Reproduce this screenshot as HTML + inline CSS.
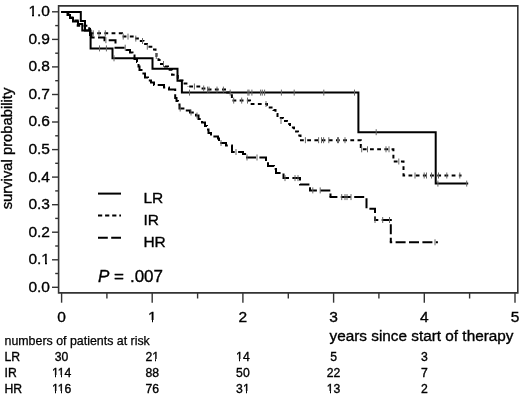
<!DOCTYPE html>
<html><head><meta charset="utf-8"><style>
html,body{margin:0;padding:0;background:#fff;}
svg{display:block;}
text{font-family:"Liberation Sans",Arial,Helvetica,sans-serif;fill:#000;stroke:#000;stroke-width:0.35px;}
</style></head><body>
<svg width="520" height="398" viewBox="0 0 520 398">
<rect width="520" height="398" fill="#fff"/>
<path d="M58.6,292.9 V5.9 H517.8 V292.9 Z" fill="none" stroke="#333" stroke-width="1.6"/>
<g stroke="#333" stroke-width="1.4"><line x1="52.0" y1="287.3" x2="58.6" y2="287.3"/><line x1="55.2" y1="273.5" x2="58.6" y2="273.5"/><line x1="52.0" y1="259.8" x2="58.6" y2="259.8"/><line x1="55.2" y1="246.0" x2="58.6" y2="246.0"/><line x1="52.0" y1="232.2" x2="58.6" y2="232.2"/><line x1="55.2" y1="218.4" x2="58.6" y2="218.4"/><line x1="52.0" y1="204.7" x2="58.6" y2="204.7"/><line x1="55.2" y1="190.9" x2="58.6" y2="190.9"/><line x1="52.0" y1="177.1" x2="58.6" y2="177.1"/><line x1="55.2" y1="163.3" x2="58.6" y2="163.3"/><line x1="52.0" y1="149.6" x2="58.6" y2="149.6"/><line x1="55.2" y1="135.8" x2="58.6" y2="135.8"/><line x1="52.0" y1="122.0" x2="58.6" y2="122.0"/><line x1="55.2" y1="108.2" x2="58.6" y2="108.2"/><line x1="52.0" y1="94.5" x2="58.6" y2="94.5"/><line x1="55.2" y1="80.7" x2="58.6" y2="80.7"/><line x1="52.0" y1="66.9" x2="58.6" y2="66.9"/><line x1="55.2" y1="53.2" x2="58.6" y2="53.2"/><line x1="52.0" y1="39.4" x2="58.6" y2="39.4"/><line x1="55.2" y1="25.6" x2="58.6" y2="25.6"/><line x1="52.0" y1="11.8" x2="58.6" y2="11.8"/><line x1="61.6" y1="293" x2="61.6" y2="302.7"/><line x1="106.9" y1="293" x2="106.9" y2="298.5"/><line x1="152.2" y1="293" x2="152.2" y2="302.7"/><line x1="197.6" y1="293" x2="197.6" y2="298.5"/><line x1="242.9" y1="293" x2="242.9" y2="302.7"/><line x1="288.3" y1="293" x2="288.3" y2="298.5"/><line x1="333.6" y1="293" x2="333.6" y2="302.7"/><line x1="378.9" y1="293" x2="378.9" y2="298.5"/><line x1="424.3" y1="293" x2="424.3" y2="302.7"/><line x1="469.6" y1="293" x2="469.6" y2="298.5"/><line x1="515.0" y1="293" x2="515.0" y2="302.7"/></g>
<g font-size="15.5" text-anchor="end"><text x="50" y="291.7">0.0</text><text x="50" y="264.2">0.1</text><text x="50" y="236.6">0.2</text><text x="50" y="209.1">0.3</text><text x="50" y="181.5">0.4</text><text x="50" y="154.0">0.5</text><text x="50" y="126.4">0.6</text><text x="50" y="98.9">0.7</text><text x="50" y="71.3">0.8</text><text x="50" y="43.8">0.9</text><text x="50" y="16.2">1.0</text></g>
<g font-size="15.5" text-anchor="middle"><text x="61.6" y="322">0</text><text x="152.2" y="322">1</text><text x="242.9" y="322">2</text><text x="333.6" y="322">3</text><text x="424.3" y="322">4</text><text x="515.0" y="322">5</text></g>
<text x="329.5" y="341.1" font-size="15.3" textLength="184" lengthAdjust="spacingAndGlyphs">years since start of therapy</text>
<text transform="translate(12.4,148.5) rotate(-90)" font-size="14.8" text-anchor="middle">survival probability</text>
<g fill="none" stroke="#000" stroke-width="2" stroke-linejoin="miter" stroke-linecap="butt">
<path d="M61.3,12 H80.8 V21 H85 V30.5 H90.6 V48.4 H112.5 V58.3 H152.5 V68.8 H177.5 V80.8 H181.9 V92.6 H358.4 V132.2 H435.7 V183.6 H468.2"/>
<path d="M61.30,12.00 H68.00 V14.50 H70.50 V17.50 H72.50 V20.50 H77.70 V25.70 H89.20 V29.00 H90.00 V33.30" stroke-dasharray="3.80 3.39" stroke-dashoffset="0.00"/>
<path d="M89.00,33.30 H122.00 V36.60 H134.00 V38.60 H139.50 V41.00 H143.50 V43.90 H147.00 V46.70 H152.50 V49.40 H155.50 V52.50 H156.50 V56.00 H158.50 V60.00 H161.00 V64.00 H165.00 V66.50 H168.00 V69.70 H172.00 V74.70 H177.80 V80.50 H182.50 V83.50 H188.00 V86.50" stroke-dasharray="3.80 3.39" stroke-dashoffset="6.18"/>
<path d="M187.00,86.50 H201.00 V88.50 H206.00 V89.60 H225.00 V92.60 H231.90 V100.60" stroke-dasharray="3.80 3.39" stroke-dashoffset="4.99"/>
<path d="M230.90,100.60 H250.00 V104.00 H267.00 V107.50 H273.50 V110.00 H275.50 V114.00 H277.50 V118.00 H283.00 V121.00 H287.00 V124.00 H290.00 V127.50 H294.00 V131.50 H298.00 V135.50 H300.50 V140.20" stroke-dasharray="3.80 3.39" stroke-dashoffset="5.59"/>
<path d="M299.50,140.20 H360.80 V149.30 H393.40 V161.50 H403.50 V175.50 H461.50" stroke-dasharray="3.80 3.39" stroke-dashoffset="6.68"/>
<path d="M61.30,12.00 H67.50 V15.00 H70.00 V18.00 H73.00 V21.50 H78.00 V24.00 H82.30 V30.50 H90.00 V35.00 H91.50 V37.50"/>
<path d="M90.50,37.50 H104.50 V40.20 H115.50 V47.70 H126.50 V50.00 H130.00 V52.50 H132.50 V55.50 H134.50 V59.00 H137.00 V62.00 H138.50 V66.50 H139.50 V70.00 H141.50 V73.50 H145.00 V77.50 H148.00 V80.50 H151.00 V82.50 H154.00 V85.00 H164.00 V87.50 H169.00 V89.60 H175.20 V98.00 H176.50 V101.00 H178.00 V104.50 H179.50 V108.50 H185.00 V110.50 H190.00 V112.50 H196.00 V115.50 H198.50 V119.00 H202.00 V122.50 H205.00 V126.00 H207.00 V129.50 H208.50 V133.00 H211.00 V136.50 H218.00 V138.50 H219.00 V143.00 H226.00 V145.50 H232.00 V152.00 H243.00 V154.00 H247.00 V157.50 H266.00 V161.00 H268.00 V166.00 H274.00 V169.00 H276.00 V173.10 H283.50 V178.10 H300.00 V184.50 H310.00 V190.40 H330.50 V197.10" stroke-dasharray="10.00 3.40" stroke-dashoffset="5.90"/>
<path d="M329.50,197.10 H366.50 V208.70 H375.00 V220.00" stroke-dasharray="10.00 3.40" stroke-dashoffset="2.10"/>
<path d="M374.00,220.00 H390.80 V242.30" stroke-dasharray="10.00 3.40" stroke-dashoffset="5.70"/>
<path d="M389.80,242.30 H437.90" stroke-dasharray="10.00 3.40" stroke-dashoffset="7.60"/>
</g>
<g stroke="#666" stroke-width="1"><line x1="99.5" y1="45.4" x2="99.5" y2="51.4"/><line x1="106.4" y1="45.4" x2="106.4" y2="51.4"/><line x1="114.0" y1="55.3" x2="114.0" y2="61.3"/><line x1="189.5" y1="89.6" x2="189.5" y2="95.6"/><line x1="230.2" y1="89.6" x2="230.2" y2="95.6"/><line x1="247.9" y1="89.6" x2="247.9" y2="95.6"/><line x1="249.0" y1="89.6" x2="249.0" y2="95.6"/><line x1="251.9" y1="89.6" x2="251.9" y2="95.6"/><line x1="260.6" y1="89.6" x2="260.6" y2="95.6"/><line x1="262.3" y1="89.6" x2="262.3" y2="95.6"/><line x1="264.6" y1="89.6" x2="264.6" y2="95.6"/><line x1="281.4" y1="89.6" x2="281.4" y2="95.6"/><line x1="294.2" y1="89.6" x2="294.2" y2="95.6"/><line x1="323.8" y1="89.6" x2="323.8" y2="95.6"/><line x1="354.5" y1="89.6" x2="354.5" y2="95.6"/><line x1="376.2" y1="129.2" x2="376.2" y2="135.2"/><line x1="437.9" y1="180.6" x2="437.9" y2="186.6"/><line x1="466.7" y1="180.6" x2="466.7" y2="186.6"/><line x1="93.2" y1="30.3" x2="93.2" y2="36.3"/><line x1="99.0" y1="30.3" x2="99.0" y2="36.3"/><line x1="105.3" y1="30.3" x2="105.3" y2="36.3"/><line x1="123.2" y1="33.6" x2="123.2" y2="39.6"/><line x1="128.0" y1="33.6" x2="128.0" y2="39.6"/><line x1="135.8" y1="35.6" x2="135.8" y2="41.6"/><line x1="142.5" y1="38.0" x2="142.5" y2="44.0"/><line x1="147.3" y1="43.7" x2="147.3" y2="49.7"/><line x1="156.3" y1="53.0" x2="156.3" y2="59.0"/><line x1="163.5" y1="61.0" x2="163.5" y2="67.0"/><line x1="194.4" y1="83.5" x2="194.4" y2="89.5"/><line x1="203.7" y1="85.5" x2="203.7" y2="91.5"/><line x1="207.5" y1="86.6" x2="207.5" y2="92.6"/><line x1="209.0" y1="86.6" x2="209.0" y2="92.6"/><line x1="217.0" y1="86.6" x2="217.0" y2="92.6"/><line x1="223.4" y1="86.6" x2="223.4" y2="92.6"/><line x1="266.0" y1="101.0" x2="266.0" y2="107.0"/><line x1="281.0" y1="118.0" x2="281.0" y2="124.0"/><line x1="233.7" y1="97.6" x2="233.7" y2="103.6"/><line x1="241.7" y1="97.6" x2="241.7" y2="103.6"/><line x1="247.5" y1="97.6" x2="247.5" y2="103.6"/><line x1="305.4" y1="137.2" x2="305.4" y2="143.2"/><line x1="318.6" y1="137.2" x2="318.6" y2="143.2"/><line x1="321.5" y1="137.2" x2="321.5" y2="143.2"/><line x1="323.6" y1="137.2" x2="323.6" y2="143.2"/><line x1="328.8" y1="137.2" x2="328.8" y2="143.2"/><line x1="337.5" y1="137.2" x2="337.5" y2="143.2"/><line x1="338.5" y1="137.2" x2="338.5" y2="143.2"/><line x1="345.0" y1="137.2" x2="345.0" y2="143.2"/><line x1="361.7" y1="146.3" x2="361.7" y2="152.3"/><line x1="367.5" y1="146.3" x2="367.5" y2="152.3"/><line x1="386.0" y1="146.3" x2="386.0" y2="152.3"/><line x1="389.0" y1="146.3" x2="389.0" y2="152.3"/><line x1="398.8" y1="158.5" x2="398.8" y2="164.5"/><line x1="415.0" y1="172.5" x2="415.0" y2="178.5"/><line x1="424.2" y1="172.5" x2="424.2" y2="178.5"/><line x1="426.5" y1="172.5" x2="426.5" y2="178.5"/><line x1="431.5" y1="172.5" x2="431.5" y2="178.5"/><line x1="438.5" y1="172.5" x2="438.5" y2="178.5"/><line x1="446.8" y1="172.5" x2="446.8" y2="178.5"/><line x1="459.8" y1="172.5" x2="459.8" y2="178.5"/><line x1="105.9" y1="37.2" x2="105.9" y2="43.2"/><line x1="125.2" y1="44.7" x2="125.2" y2="50.7"/><line x1="180.2" y1="105.5" x2="180.2" y2="111.5"/><line x1="191.0" y1="109.5" x2="191.0" y2="115.5"/><line x1="197.0" y1="112.5" x2="197.0" y2="118.5"/><line x1="247.0" y1="154.5" x2="247.0" y2="160.5"/><line x1="221.0" y1="140.0" x2="221.0" y2="146.0"/><line x1="236.0" y1="149.0" x2="236.0" y2="155.0"/><line x1="257.0" y1="154.5" x2="257.0" y2="160.5"/><line x1="285.0" y1="175.1" x2="285.0" y2="181.1"/><line x1="295.0" y1="175.1" x2="295.0" y2="181.1"/><line x1="298.0" y1="175.1" x2="298.0" y2="181.1"/><line x1="312.8" y1="187.4" x2="312.8" y2="193.4"/><line x1="320.2" y1="187.4" x2="320.2" y2="193.4"/><line x1="341.7" y1="194.1" x2="341.7" y2="200.1"/><line x1="345.0" y1="194.1" x2="345.0" y2="200.1"/><line x1="347.0" y1="194.1" x2="347.0" y2="200.1"/><line x1="351.0" y1="194.1" x2="351.0" y2="200.1"/><line x1="375.0" y1="217.0" x2="375.0" y2="223.0"/><line x1="382.7" y1="217.0" x2="382.7" y2="223.0"/><line x1="389.5" y1="217.0" x2="389.5" y2="223.0"/><line x1="435.0" y1="239.3" x2="435.0" y2="245.3"/></g>
<g stroke="#000" stroke-width="2">
<line x1="98" y1="193.6" x2="121" y2="193.6"/>
<line x1="98" y1="215.6" x2="121" y2="215.6" stroke-dasharray="4.2 2.9"/>
<line x1="98" y1="237.8" x2="121" y2="237.8" stroke-dasharray="9.8 3.4"/>
</g>
<g font-size="15.5">
<text x="143.4" y="202.7">LR</text>
<text x="143.4" y="224.7">IR</text>
<text x="143.4" y="246.7">HR</text>
</g>
<text x="98" y="282" font-size="17"><tspan font-style="italic">P</tspan> = <tspan dx="1.2">.007</tspan></text>
<text x="4.5" y="345" font-size="12.4" style="stroke-width:0.25px">numbers of patients at risk</text>
<g font-size="12.2" text-anchor="middle" style="stroke-width:0.25px"><text x="4.5" y="361.0" text-anchor="start">LR</text><text x="61.6" y="361.0">30</text><text x="152.2" y="361.0">21</text><text x="242.9" y="361.0">14</text><text x="333.6" y="361.0">5</text><text x="424.3" y="361.0">3</text><text x="4.5" y="377.2" text-anchor="start">IR</text><text x="61.6" y="377.2">114</text><text x="152.2" y="377.2">88</text><text x="242.9" y="377.2">50</text><text x="333.6" y="377.2">22</text><text x="424.3" y="377.2">7</text><text x="4.5" y="393.3" text-anchor="start">HR</text><text x="61.6" y="393.3">116</text><text x="152.2" y="393.3">76</text><text x="242.9" y="393.3">31</text><text x="333.6" y="393.3">13</text><text x="424.3" y="393.3">2</text></g>
<g fill="#fff" shape-rendering="crispEdges"><rect x="42" y="262" width="3" height="3"/><rect x="47" y="262" width="3" height="3"/><rect x="29" y="14" width="3" height="3"/><rect x="34" y="14" width="3" height="3"/><rect x="148" y="320" width="4" height="3"/><rect x="153" y="320" width="4" height="3"/><rect x="152" y="359" width="3" height="3"/><rect x="156" y="359" width="3" height="3"/><rect x="236" y="359" width="3" height="3"/><rect x="240" y="359" width="3" height="3"/><rect x="52" y="375" width="3" height="3"/><rect x="56" y="375" width="3" height="3"/><rect x="58" y="375" width="3" height="3"/><rect x="62" y="375" width="3" height="3"/><rect x="52" y="391" width="3" height="3"/><rect x="56" y="391" width="3" height="3"/><rect x="58" y="391" width="3" height="3"/><rect x="62" y="391" width="3" height="3"/><rect x="243" y="391" width="3" height="3"/><rect x="247" y="391" width="3" height="3"/><rect x="327" y="391" width="3" height="3"/><rect x="331" y="391" width="3" height="3"/></g>
</svg>
</body></html>
